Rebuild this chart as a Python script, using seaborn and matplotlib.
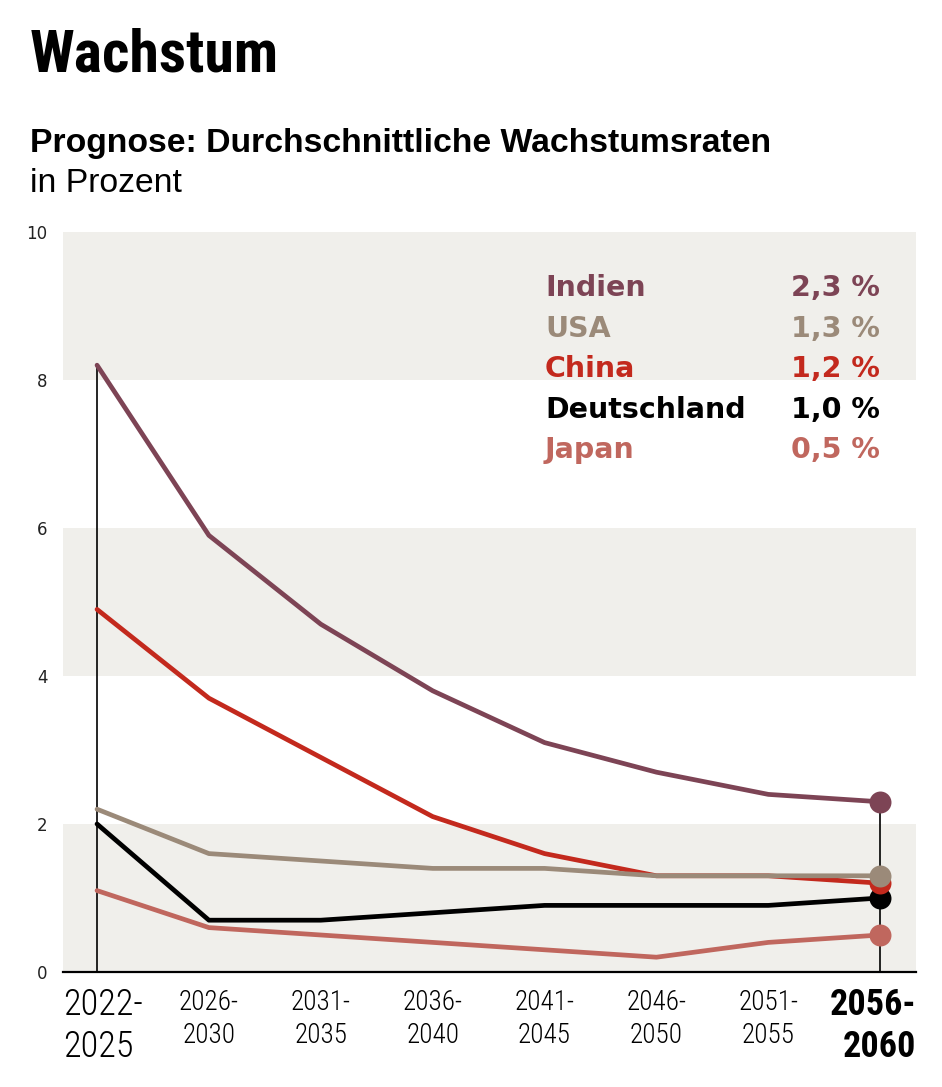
import pandas as pd
import matplotlib
matplotlib.use('Agg')
import matplotlib.pyplot as plt
import seaborn as sns

# --- Daten
perioden = ['2022-\n2025', '2026-\n2030', '2031-\n2035', '2036-\n2040',
            '2041-\n2045', '2046-\n2050', '2051-\n2055', '2056-\n2060']
indien = [8.2, 5.9, 4.7, 3.8, 3.1, 2.7, 2.4, 2.3]
usa = [2.2, 1.6, 1.5, 1.4, 1.4, 1.3, 1.3, 1.3]
china = [4.9, 3.7, 2.9, 2.1, 1.6, 1.3, 1.3, 1.2]
deutschland = [2.0, 0.7, 0.7, 0.8, 0.9, 0.9, 0.9, 1.0]
japan = [1.1, 0.6, 0.5, 0.4, 0.3, 0.2, 0.4, 0.5]

laender = ['Indien', 'USA', 'China', 'Deutschland', 'Japan']
farben = {
    'Indien': '#7d4455',
    'USA': '#9b8a79',
    'China': '#c3291d',
    'Deutschland': '#000000',
    'Japan': '#c0675e',
}
werte = {'Indien': indien, 'USA': usa, 'China': china,
         'Deutschland': deutschland, 'Japan': japan}

dados = pd.DataFrame([
    {'land': land, 'x': i, 'wert': v}
    for land in laender
    for i, v in enumerate(werte[land])
])

# --- Schriften
SCHMAL = ['Roboto Condensed', 'Liberation Sans']
BREIT = ['DejaVu Sans']
TEXT = ['Liberation Sans', 'DejaVu Sans']

sns.set_style('white')
plt.rcParams['font.family'] = BREIT
plt.rcParams['text.color'] = 'black'
plt.rcParams['xtick.color'] = 'black'
plt.rcParams['ytick.color'] = 'black'

fig = plt.figure(figsize=(9.42, 10.87), dpi=100)
ax = fig.add_axes([0.0669, 0.1058, 0.9055, 0.6808])

# Hintergrundbänder
for unten in (0, 4, 8):
    ax.axhspan(unten, unten + 2, color='#f0efeb', zorder=0, lw=0)

# vertikale Linien am ersten und letzten Zeitraum
erster = dados[dados.x == 0].wert.max()
letzter = dados[dados.x == len(perioden) - 1].wert.max()
ax.vlines([0, len(perioden) - 1], 0, [erster, letzter], color='black', lw=1.2, zorder=1)

# Linien
for land in ['Japan', 'Deutschland', 'Indien', 'China', 'USA']:
    sub = dados[dados.land == land]
    sns.lineplot(data=sub, x='x', y='wert', color=farben[land], lw=3.4,
                 ax=ax, zorder=3, legend=False)
for land in ['Indien', 'Japan', 'Deutschland', 'China', 'USA']:
    sub = dados[dados.land == land]
    ende = sub[sub.x == sub.x.max()]
    ax.scatter(ende.x, ende.wert, s=250, color=farben[land], zorder=4, lw=0)

ax.set_xlim(-0.304, 7.32)
ax.set_ylim(0, 10)
ax.set_xlabel('')
ax.set_ylabel('')

for s in ['top', 'right', 'left']:
    ax.spines[s].set_visible(False)
ax.spines['bottom'].set_color('black')
ax.spines['bottom'].set_linewidth(1.6)
ax.spines['bottom'].set_zorder(5)

ax.set_yticks(range(0, 11, 2))
ax.tick_params(axis='y', length=0, pad=11, labelsize=12, labelcolor='#222222')

ax.set_xticks(range(len(perioden)))
ax.set_xticklabels([''] + perioden[1:-1] + [''])
ax.tick_params(axis='x', direction='in', length=12, width=1.3, pad=12)
for lab in ax.get_xticklabels():
    lab.set_fontfamily(SCHMAL)
    lab.set_fontsize(19.5)
    lab.set_fontweight('light')
    lab.set_linespacing(1.3)

ax.annotate(perioden[0], xy=(0, 0), xycoords='axes fraction', xytext=(0, -11),
            textcoords='offset points', ha='left', va='top', fontsize=26,
            fontweight='light', family=SCHMAL, linespacing=1.2)
ax.annotate(perioden[-1], xy=(1, 0), xycoords='axes fraction', xytext=(0, -11),
            textcoords='offset points', ha='right', va='top', fontsize=26,
            fontweight='bold', family=SCHMAL, linespacing=1.2,
            multialignment='right')

# --- Legende mit Endwerten
for i, land in enumerate(laender):
    y = 0.735 - i * 0.0373
    wert = f"{werte[land][-1]:.1f}".replace('.', ',') + ' %'
    fig.text(0.5786, y, land, color=farben[land], fontsize=20.5,
             fontweight='bold', va='center', ha='left')
    fig.text(0.934, y, wert, color=farben[land], fontsize=20.5,
             fontweight='bold', va='center', ha='right')

# --- Titel
fig.text(0.032, 0.9338, 'Wachstum', fontsize=43, fontweight='bold',
         family=SCHMAL, va='baseline')
fig.text(0.032, 0.860, 'Prognose: Durchschnittliche Wachstumsraten', fontsize=24.3,
         fontweight='bold', family=TEXT, va='baseline')
fig.text(0.032, 0.8234, 'in Prozent', fontsize=24.3,
         family=TEXT, va='baseline')

fig.savefig('out.png', dpi=100)
